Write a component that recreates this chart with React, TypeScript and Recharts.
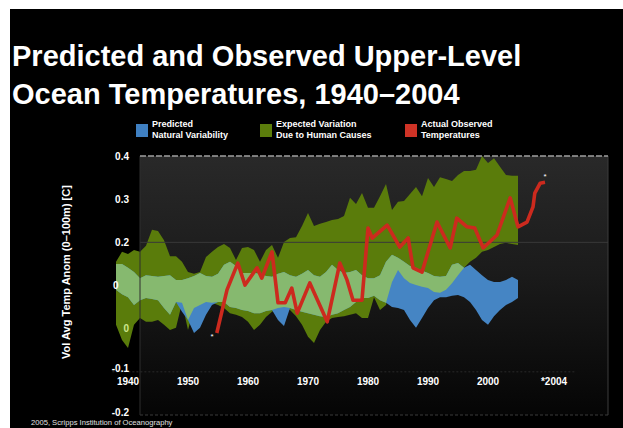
import React from 'react';
import {
  ComposedChart,
  Area,
  Line,
  XAxis,
  YAxis,
  ReferenceArea,
  ReferenceLine,
  Scatter,
} from 'recharts';

// ---- data ----
const bandYears = [
  1938, 1939, 1940, 1941, 1942, 1943, 1944, 1945, 1946, 1947, 1948, 1949,
  1950, 1951, 1952, 1953, 1954, 1955, 1956, 1957, 1958, 1959, 1960, 1961,
  1962, 1963, 1964, 1965, 1966, 1967, 1968, 1969, 1970, 1971, 1972, 1973,
  1974, 1975, 1976, 1977, 1978, 1979, 1980, 1981, 1982, 1983, 1984, 1985,
  1986, 1987, 1988, 1989, 1990, 1991, 1992, 1993, 1994, 1995, 1996, 1997,
  1998, 1999, 2000, 2001, 2002, 2003, 2004, 2005,
];

// Expected variation due to human causes (upper / lower envelope)
const humanHigh = [
  0.155, 0.178, 0.173, 0.182, 0.178, 0.192, 0.229, 0.226, 0.205, 0.168, 0.168, 0.155,
  0.131, 0.127, 0.131, 0.166, 0.178, 0.189, 0.196, 0.187, 0.159, 0.187, 0.189, 0.182,
  0.155, 0.182, 0.194, 0.164, 0.201, 0.21, 0.212, 0.238, 0.268, 0.238, 0.243, 0.247,
  0.252, 0.254, 0.261, 0.303, 0.289, 0.314, 0.28, 0.28, 0.307, 0.335, 0.275, 0.294,
  0.296, 0.312, 0.328, 0.307, 0.349, 0.328, 0.351, 0.347, 0.342, 0.356, 0.365, 0.365,
  0.368, 0.4, 0.384, 0.395, 0.375, 0.356, 0.354, 0.354,
];
const humanLow = [
  0.009, -0.026, -0.045, 0.009, 0.025, 0.016, 0.016, 0.02, 0.009, -0.003, 0.002, 0.06,
  -0.003, 0.048, 0.055, 0.062, 0.06, 0.055, 0.048, 0.036, 0.032, 0.027, 0.016, -0.003,
  0.009, 0.027, 0.039, 0.048, 0.05, 0.043, 0.029, 0.009, -0.019, -0.033, -0.003, 0.016,
  0.025, 0.027, 0.029, 0.032, 0.036, 0.025, 0.025, 0.073, 0.043, 0.055, 0.108, 0.136,
  0.117, 0.106, 0.101, 0.097, 0.094, 0.085, 0.083, 0.09, 0.105, 0.124, 0.141, 0.155,
  0.164, 0.178, 0.182, 0.189, 0.196, 0.199, 0.196, 0.194,
];

// Predicted natural variability (upper / lower envelope)
const naturalHigh = [
  0.15, 0.15, 0.141, 0.131, 0.117, 0.124, 0.122, 0.12, 0.122, 0.124, 0.113, 0.113,
  0.117, 0.122, 0.129, 0.122, 0.12, 0.127, 0.148, 0.155, 0.145, 0.129, 0.129, 0.129,
  0.127, 0.122, 0.12, 0.127, 0.131, 0.124, 0.12, 0.127, 0.136, 0.124, 0.12, 0.131,
  0.148, 0.136, 0.129, 0.131, 0.136, 0.124, 0.117, 0.117, 0.124, 0.155, 0.171, 0.164,
  0.155, 0.145, 0.141, 0.134, 0.129, 0.122, 0.12, 0.122, 0.148, 0.152, 0.141, 0.148,
  0.136, 0.124, 0.113, 0.108, 0.108, 0.113, 0.12, 0.113,
];
const naturalLow = [
  0.09, 0.08, 0.073, 0.055, 0.066, 0.071, 0.069, 0.066, 0.048, 0.032, 0.062, 0.039,
  0.02, -0.01, 0.002, 0.032, 0.055, 0.062, 0.062, 0.05, 0.048, 0.043, 0.041, 0.036,
  0.036, 0.041, 0.043, 0.02, 0.006, 0.048, 0.043, 0.039, 0.036, 0.032, 0.029, 0.027,
  0.032, 0.036, 0.043, 0.05, 0.062, 0.071, 0.071, 0.076, 0.066, 0.06, 0.05, 0.048,
  0.043, 0.02, 0.002, 0.025, 0.048, 0.066, 0.073, 0.073, 0.076, 0.078, 0.073, 0.062,
  0.043, 0.02, 0.009, 0.029, 0.043, 0.055, 0.062, 0.071,
];

// Actual observed temperatures
const obsYears = [
  1954.8, 1955.7, 1956.5, 1958.3, 1959.5, 1961.5, 1962.3, 1964.0, 1965.0, 1966.2,
  1967.3, 1968.2, 1970.3, 1971.2, 1973.2, 1975.3, 1976.5, 1977.5, 1979.0, 1980.0,
  1980.7, 1983.2, 1985.3, 1986.7, 1987.5, 1989.0, 1991.5, 1993.7, 1994.8, 1996.5,
  1997.8, 1999.2, 2001.5, 2003.7, 2005.0, 2006.5, 2007.5, 2007.8, 2008.7, 2009.5,
];
const obsTemps = [
  -0.01, 0.043, 0.09, 0.152, 0.101, 0.141, 0.117, 0.178, 0.06, 0.06,
  0.094, 0.036, 0.106, 0.078, 0.016, 0.152, 0.113, 0.066, 0.066, 0.233,
  0.21, 0.24, 0.189, 0.21, 0.141, 0.131, 0.247, 0.187, 0.256, 0.236,
  0.233, 0.187, 0.217, 0.303, 0.236, 0.247, 0.282, 0.314, 0.337, 0.339,
];

// asterisk marks
const markYears = [1954.0, 2009.5];
const markTemps = [-0.017, 0.354];

const yTicks = [0.4, 0.3, 0.2, 0.1, 0, -0.1, -0.2];
const yTickLabels = ['0.4', '0.3', '0.2', '0', '0', '-0.1', '-0.2'];
const xTicks = [1940, 1950, 1960, 1970, 1980, 1990, 2000, 2011];
const xTickLabels = ['1940', '1950', '1960', '1970', '1980', '1990', '2000', '*2004'];

const legendItems = [
  { line1: 'Predicted', line2: 'Natural Variability', color: '#3f80c2' },
  { line1: 'Expected Variation', line2: 'Due to Human Causes', color: '#5b7d0c' },
  { line1: 'Actual Observed', line2: 'Temperatures', color: '#cf3326' },
];

const bandData = bandYears.map((year, i) => {
  const oLo = Math.max(humanLow[i], naturalLow[i]);
  const oHi = Math.max(oLo, Math.min(humanHigh[i], naturalHigh[i]));
  return {
    year,
    human: [humanLow[i], humanHigh[i]],
    natural: [naturalLow[i], naturalHigh[i]],
    overlap: [oLo, oHi],
  };
});
const obsData = obsYears.map((year, i) => ({ year, temp: obsTemps[i] }));
const markData = markYears.map((year, i) => ({ year, temp: markTemps[i] }));

const FONT = '"Liberation Sans", Arial, Helvetica, sans-serif';

const XTick = (props: any) => {
  const { x, y, payload } = props;
  const i = xTicks.findIndex((t) => Math.abs(t - payload.value) < 1e-9);
  return (
    <text
      x={x}
      y={y - 30}
      textAnchor="middle"
      fill="#ffffff"
      fontSize={10}
      fontWeight={700}
      fontFamily={FONT}
    >
      {xTickLabels[i]}
    </text>
  );
};

const YTick = (props: any) => {
  const { x, y, payload } = props;
  const v = payload.value;
  const i = yTicks.findIndex((t) => Math.abs(t - v) < 1e-9);
  const isPointOne = Math.abs(v - 0.1) < 1e-9;
  const isZero = Math.abs(v) < 1e-9;
  const isLow = v < -0.05;
  return (
    <text
      x={isPointOne ? x + 3 : x + 19}
      y={y + 3.6 - (isLow ? 3 : 0)}
      textAnchor={isPointOne ? 'start' : 'end'}
      fill={isZero ? '#cde78e' : '#ffffff'}
      fontSize={10}
      fontWeight={700}
      fontFamily={FONT}
    >
      {yTickLabels[i]}
    </text>
  );
};

const Star = (props: any) => {
  const { cx, cy } = props;
  return (
    <text x={cx} y={cy + 3} textAnchor="middle" fill="#ffffff" fontSize={8} fontFamily={FONT}>
      *
    </text>
  );
};

export default function App() {
  return (
    <div
      style={{
        position: 'absolute',
        left: 0,
        top: 0,
        width: 623,
        height: 428,
        background: '#ffffff',
        overflow: 'hidden',
        fontFamily: FONT,
      }}
    >
      <div
        style={{ position: 'absolute', left: 10, top: 9, width: 613, height: 419, background: '#000' }}
      />
      <div
        style={{
          position: 'absolute',
          left: 12,
          top: 37,
          color: '#fff',
          fontSize: 29,
          fontWeight: 700,
          lineHeight: '38px',
          whiteSpace: 'nowrap',
        }}
      >
        <div>Predicted and Observed Upper-Level</div>
        <div>Ocean Temperatures, 1940–2004</div>
      </div>

      {legendItems.map((it, i) => (
        <div
          key={it.line1}
          style={{ position: 'absolute', left: [136, 260, 405][i], top: 119, display: 'flex' }}
        >
          <div style={{ width: 12, height: 13, marginTop: 5, background: it.color }} />
          <div
            style={{
              marginLeft: 4,
              color: '#fff',
              fontSize: 9,
              fontWeight: 700,
              lineHeight: '10.5px',
              whiteSpace: 'nowrap',
            }}
          >
            <div>{it.line1}</div>
            <div>{it.line2}</div>
          </div>
        </div>
      ))}

      <div style={{ position: 'absolute', left: 0, top: 0 }}>
        <ComposedChart
          width={623}
          height={428}
          data={bandData}
          margin={{ top: 156, right: 15, bottom: 0, left: 80 }}
        >
          <defs>
            <linearGradient id="plotBg" x1="0" y1="0" x2="0" y2="1">
              <stop offset="0" stopColor="#292929" />
              <stop offset="0.45" stopColor="#1b1b1b" />
              <stop offset="1" stopColor="#050505" />
            </linearGradient>
          </defs>
          <ReferenceArea
            x1={1942}
            x2={2020}
            y1={-0.2}
            y2={0.4}
            fill="url(#plotBg)"
            fillOpacity={1}
            stroke="none"
          />
          <ReferenceLine
            segment={[{ x: 1942, y: 0.2 }, { x: 2020, y: 0.2 }]}
            stroke="#393939"
            strokeWidth={1}
          />
          <ReferenceLine
            segment={[{ x: 1937.4, y: -0.1 }, { x: 2014.5, y: -0.1 }]}
            stroke="#2a2a2a"
            strokeDasharray="2 2"
          />
          <ReferenceLine
            segment={[{ x: 1942, y: -0.2 }, { x: 2020, y: -0.2 }]}
            stroke="#3a3a3a"
            strokeDasharray="3 2"
          />
          <ReferenceLine x={1942} stroke="#2e2e2e" />
          <ReferenceLine x={2020} stroke="#3c3c3c" />
          <ReferenceLine
            segment={[{ x: 1942, y: 0.4 }, { x: 2020, y: 0.4 }]}
            stroke="#a0a0a0"
            strokeWidth={1.5}
            strokeDasharray="6 2"
          />
          <XAxis
            dataKey="year"
            type="number"
            domain={[1937, 2020]}
            ticks={xTicks}
            tick={<XTick />}
            axisLine={false}
            tickLine={false}
            tickSize={0}
            tickMargin={0}
            height={13}
            allowDataOverflow
          />
          <Area
            type="linear"
            dataKey="human"
            fill="#5a7c0b"
            fillOpacity={1}
            stroke="none"
            isAnimationActive={false}
          />
          <Area
            type="linear"
            dataKey="natural"
            fill="#4585c4"
            fillOpacity={1}
            stroke="none"
            isAnimationActive={false}
          />
          <Area
            type="linear"
            dataKey="overlap"
            fill="#86b96f"
            fillOpacity={1}
            stroke="none"
            isAnimationActive={false}
          />
          <Line
            data={obsData}
            type="linear"
            dataKey="temp"
            stroke="#cc2a1e"
            strokeWidth={3.6}
            strokeLinejoin="round"
            dot={false}
            isAnimationActive={false}
          />
          <Scatter data={markData} dataKey="temp" shape={<Star />} isAnimationActive={false} />
          <YAxis
            type="number"
            domain={[-0.2, 0.4]}
            ticks={yTicks}
            tick={<YTick />}
            interval={0}
            axisLine={false}
            tickLine={false}
            tickSize={0}
            tickMargin={0}
            width={30}
            allowDataOverflow
          />
        </ComposedChart>
      </div>

      <div
        style={{
          position: 'absolute',
          left: 66,
          top: 272,
          transform: 'translate(-50%, -50%) rotate(-90deg)',
          color: '#fff',
          fontSize: 11,
          fontWeight: 700,
          whiteSpace: 'nowrap',
        }}
      >
        Vol Avg Temp Anom (0–100m) [C]
      </div>
      <div
        style={{
          position: 'absolute',
          left: 31,
          top: 419,
          color: '#e0e0e0',
          fontSize: 7.6,
          lineHeight: '8px',
          whiteSpace: 'nowrap',
        }}
      >
        2005, Scripps Institution of Oceanography
      </div>
    </div>
  );
}
